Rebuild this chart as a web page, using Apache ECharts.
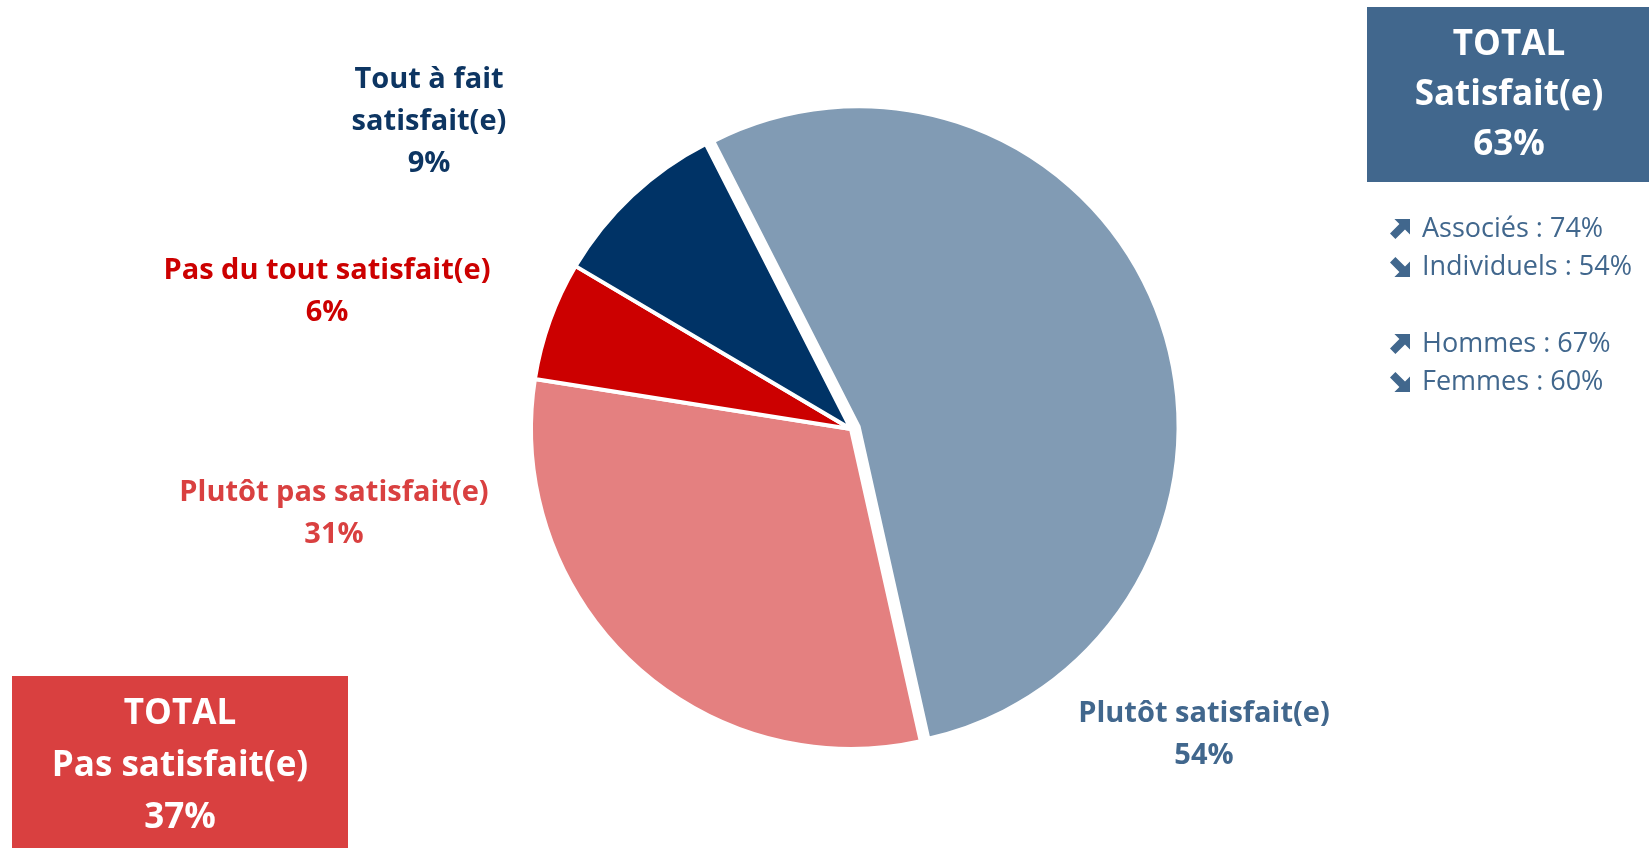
<!DOCTYPE html>
<html>
<head>
<meta charset="utf-8">
<script src="https://cdn.jsdelivr.net/npm/echarts@6/dist/echarts.min.js"></script>
<style>
  html, body { margin: 0; padding: 0; background: #fff; }
  #chart { width: 1649px; height: 848px; }
</style>
</head>
<body>
<div id="chart"></div>
<script>
// données du camembert (ordre horaire depuis le haut)
const categories = ['Plutôt satisfait(e)', 'Plutôt pas satisfait(e)', 'Pas du tout satisfait(e)', 'Tout à fait satisfait(e)'];
const labelNames = ['Plutôt satisfait(e)', 'Plutôt pas satisfait(e)', 'Pas du tout satisfait(e)', 'Tout à fait\nsatisfait(e)'];
const values = [54, 31, 6, 9];
const sliceColors = ['#819bb4', '#e48080', '#cc0000', '#003366'];
const labelColors = ['#41678d', '#d94040', '#cc0000', '#0d3562'];

// encadrés et détails
const totalSatisfait = ['TOTAL', 'Satisfait(e)', '63%'];
const totalPasSatisfait = ['TOTAL', 'Pas satisfait(e)', '37%'];
const detailUp = [true, false, true, false];
const detailTexts = ['Associés : 74%', 'Individuels : 54%', 'Hommes : 67%', 'Femmes : 60%'];

// positions des étiquettes (centre du bloc de texte)
const labelPos = [[1204, 735], [334, 514], [327, 292], [429, 122]];
const detailY = [229, 267, 344, 382];

const FONT = '"Open Sans", Lato, sans-serif';

const chart = echarts.init(document.getElementById('chart'));

// flèche épaisse (style Wingdings), boîte 0..1
function arrowPoints(up, s, x0, y0) {
    const pts = [[0.22, 0], [1, 0], [1, 0.78], [0.75, 0.53], [0.27, 1], [0, 0.73], [0.47, 0.25]];
    return pts.map(([px, py]) => [x0 + px * s, y0 + (up ? py : 1 - py) * s]);
}

const graphics = [
    {
        type: 'rect',
        shape: { x: 1367, y: 7, width: 290, height: 175 },
        style: { fill: '#41678d' },
        silent: true
    },
    {
        type: 'text',
        x: 1509, y: 95,
        style: {
            text: totalSatisfait.join('\n'),
            fill: '#fff',
            font: 'bold 35px ' + FONT,
            lineHeight: 50,
            align: 'center',
            verticalAlign: 'middle'
        }
    },
    {
        type: 'rect',
        shape: { x: 12, y: 676, width: 336, height: 180 },
        style: { fill: '#d94040' },
        silent: true
    },
    {
        type: 'text',
        x: 180, y: 766,
        style: {
            text: totalPasSatisfait.join('\n'),
            fill: '#fff',
            font: 'bold 35px ' + FONT,
            lineHeight: 52,
            align: 'center',
            verticalAlign: 'middle'
        }
    }
];

detailTexts.forEach((t, i) => {
    graphics.push({
        type: 'polygon',
        shape: { points: arrowPoints(detailUp[i], 20, 1390, detailY[i] - 10) },
        style: { fill: '#41678d' },
        silent: true
    });
    graphics.push({
        type: 'text',
        x: 1422, y: detailY[i],
        style: {
            text: t,
            fill: '#41678d',
            font: '27px ' + FONT,
            align: 'left',
            verticalAlign: 'middle'
        }
    });
});

// étiquettes des parts
categories.forEach((c, i) => {
    graphics.push({
        type: 'text',
        x: labelPos[i][0], y: labelPos[i][1],
        style: {
            text: labelNames[i] + '\n' + values[i] + '%',
            fill: labelColors[i],
            font: 'bold 29px ' + FONT,
            lineHeight: 42,
            align: 'center',
            verticalAlign: 'middle'
        }
    });
});

const option = {
    animation: false,
    graphic: graphics,
    series: [{
        type: 'pie',
        center: [851, 429],
        radius: 320,
        startAngle: 117,
        clockwise: true,
        selectedMode: 'single',
        selectedOffset: 8,
        emphasis: { disabled: true },
        itemStyle: { borderColor: '#fff', borderWidth: 4 },
        label: { show: false },
        labelLine: { show: false },
        data: categories.map((name, i) => ({
            name: name,
            value: values[i],
            selected: i === 0,
            itemStyle: { color: sliceColors[i] }
        }))
    }]
};

chart.setOption(option);
</script>
</body>
</html>
